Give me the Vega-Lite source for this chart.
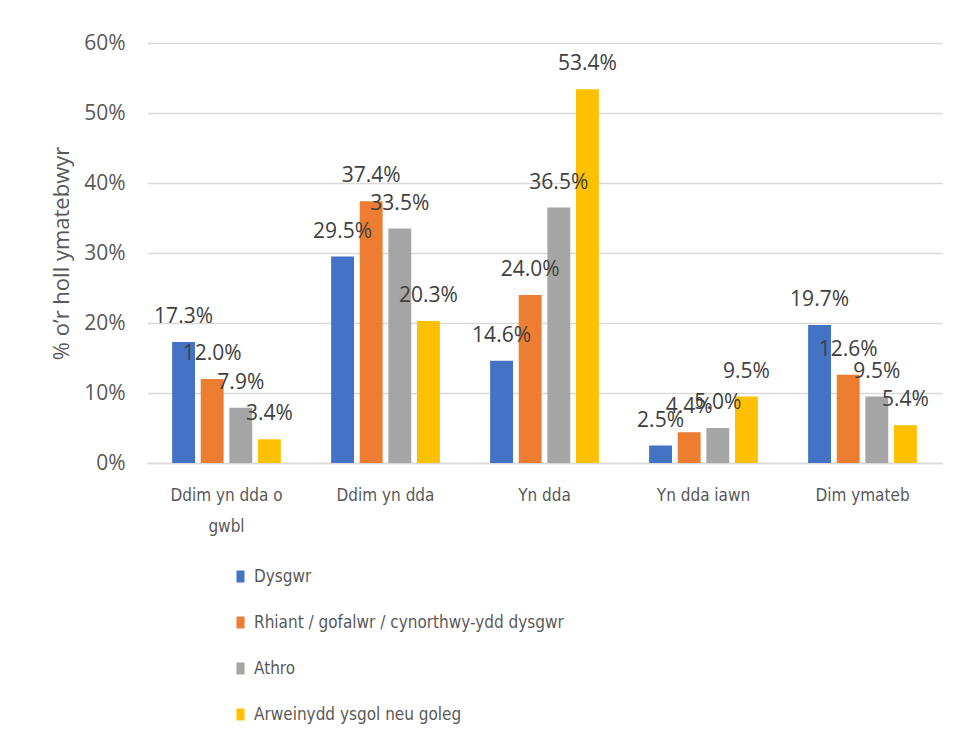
{
  "$schema": "https://vega.github.io/schema/vega-lite/v6.json",
  "width": 795,
  "height": 420,
  "autosize": {"type": "none"},
  "padding": {"left": 147, "top": 43, "right": 17, "bottom": 275},
  "background": "white",
  "config": {"view": {"stroke": null}},
  "data": {"values": [
    {"cat": "Ddim yn dda o gwbl", "grp": "Dysgwr", "v": 0.173},
    {"cat": "Ddim yn dda o gwbl", "grp": "Rhiant / gofalwr / cynorthwy-ydd dysgwr", "v": 0.120},
    {"cat": "Ddim yn dda o gwbl", "grp": "Athro", "v": 0.079},
    {"cat": "Ddim yn dda o gwbl", "grp": "Arweinydd ysgol neu goleg", "v": 0.034},
    {"cat": "Ddim yn dda", "grp": "Dysgwr", "v": 0.295},
    {"cat": "Ddim yn dda", "grp": "Rhiant / gofalwr / cynorthwy-ydd dysgwr", "v": 0.374},
    {"cat": "Ddim yn dda", "grp": "Athro", "v": 0.335},
    {"cat": "Ddim yn dda", "grp": "Arweinydd ysgol neu goleg", "v": 0.203},
    {"cat": "Yn dda", "grp": "Dysgwr", "v": 0.146},
    {"cat": "Yn dda", "grp": "Rhiant / gofalwr / cynorthwy-ydd dysgwr", "v": 0.240},
    {"cat": "Yn dda", "grp": "Athro", "v": 0.365},
    {"cat": "Yn dda", "grp": "Arweinydd ysgol neu goleg", "v": 0.534},
    {"cat": "Yn dda iawn", "grp": "Dysgwr", "v": 0.025},
    {"cat": "Yn dda iawn", "grp": "Rhiant / gofalwr / cynorthwy-ydd dysgwr", "v": 0.044},
    {"cat": "Yn dda iawn", "grp": "Athro", "v": 0.050},
    {"cat": "Yn dda iawn", "grp": "Arweinydd ysgol neu goleg", "v": 0.095},
    {"cat": "Dim ymateb", "grp": "Dysgwr", "v": 0.197},
    {"cat": "Dim ymateb", "grp": "Rhiant / gofalwr / cynorthwy-ydd dysgwr", "v": 0.126},
    {"cat": "Dim ymateb", "grp": "Athro", "v": 0.095},
    {"cat": "Dim ymateb", "grp": "Arweinydd ysgol neu goleg", "v": 0.054}
  ]},
  "encoding": {
    "x": {
      "field": "cat", "type": "nominal", "sort": null,
      "scale": {"paddingInner": 0.28, "paddingOuter": 0.14},
      "axis": {
        "title": null, "labelAngle": 0, "ticks": false,
        "domainColor": "#d9d9d9", "domainWidth": 1.5,
        "labelFont": "DejaVu Sans Condensed", "labelFontSize": 17, "labelColor": "#595959",
        "labelPadding": 24, "labelLineHeight": 31,
        "labelExpr": "datum.value == 'Ddim yn dda o gwbl' ? ['Ddim yn dda o', 'gwbl'] : datum.value"
      }
    },
    "xOffset": {
      "field": "grp", "type": "nominal", "sort": null,
      "scale": {"paddingInner": 0.2, "paddingOuter": 0.1}
    },
    "y": {
      "field": "v", "type": "quantitative",
      "scale": {"domain": [0, 0.6], "nice": false},
      "axis": {
        "title": "% o’r holl ymatebwyr",
        "values": [0, 0.1, 0.2, 0.3, 0.4, 0.5, 0.6],
        "format": ".0%", "domain": false, "ticks": false,
        "gridColor": "#d9d9d9", "gridWidth": 1.5,
        "labelFont": "Open Sans", "labelFontSize": 21, "labelColor": "#595959",
        "labelPadding": 22,
        "titleFont": "Open Sans", "titleFontSize": 22, "titleColor": "#595959",
        "titleFontWeight": "normal", "titleX": -74, "titleY": 210, "titleAngle": -90
      }
    }
  },
  "layer": [
    {
      "mark": {"type": "bar"},
      "encoding": {
        "color": {
          "field": "grp", "type": "nominal", "sort": null,
          "scale": {
            "domain": ["Dysgwr", "Rhiant / gofalwr / cynorthwy-ydd dysgwr", "Athro", "Arweinydd ysgol neu goleg"],
            "range": ["#4472C4", "#ED7D31", "#A5A5A5", "#FFC000"]
          },
          "legend": {
            "title": null, "orient": "none", "direction": "vertical",
            "legendX": 85, "legendY": 525, "padding": 0,
            "symbolType": "M-0.67,-1L0.67,-1L0.67,1L-0.67,1Z", "symbolSize": 144,
            "symbolStrokeWidth": 0,
            "labelFont": "DejaVu Sans Condensed", "labelFontSize": 17, "labelColor": "#595959",
            "labelOffset": 5, "rowPadding": 28, "labelLimit": 600
          }
        }
      }
    },
    {
      "mark": {"type": "text", "baseline": "alphabetic", "align": "center", "dy": -19,
        "font": "Open Sans", "fontSize": 21, "color": "#404040"},
      "encoding": {
        "text": {"field": "v", "type": "quantitative", "format": ".1%"}
      }
    }
  ]
}
